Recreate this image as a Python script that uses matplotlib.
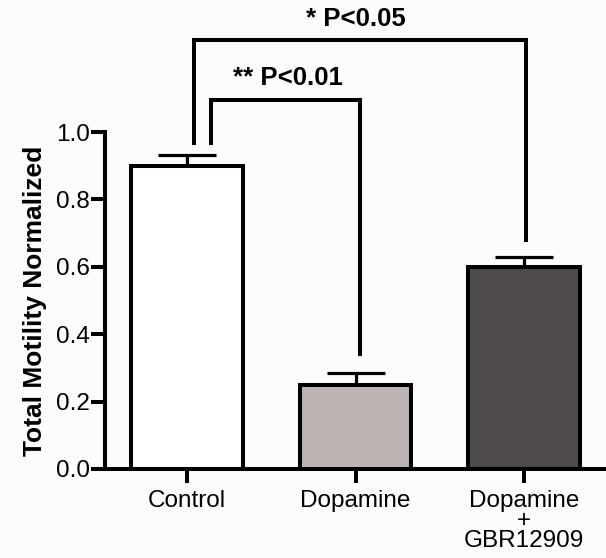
import matplotlib
matplotlib.use("Agg")
import matplotlib.pyplot as plt

plt.rcParams["font.family"] = ["Liberation Sans", "DejaVu Sans"]

gruplar = ["Control", "Dopamine", "Dopamine\n+\nGBR12909"]
ortalama = [0.90, 0.25, 0.60]
hata = [0.032, 0.035, 0.03]
renkler = ["#ffffff", "#bcb5b3", "#4f4b4a"]

y_tikler = [0.0, 0.2, 0.4, 0.6, 0.8, 1.0]

fig = plt.figure(figsize=(6.06, 5.58), dpi=100)
fig.patch.set_facecolor("#fcfcfe")
ax = fig.add_axes([0.1733, 0.1595, 0.8267, 0.6039])
ax.set_facecolor("#fcfcfe")

x = list(range(len(gruplar)))
ax.bar(x, ortalama, width=0.66, color=renkler, edgecolor="black",
       linewidth=2.9, zorder=3)
ax.errorbar(x, ortalama, yerr=[[0, 0, 0], hata], fmt="none", ecolor="black",
            elinewidth=2.3, capsize=21, capthick=2.3, zorder=2)

ax.set_xlim(-0.487, 2.487)
ax.set_ylim(0, 1.0)
ax.set_xticks(x)
ax.set_xticklabels(gruplar, fontsize=17.5, linespacing=0.9)
ax.set_yticks(y_tikler)
ax.set_yticklabels(["%.1f" % t for t in y_tikler], fontsize=17.5)
ax.tick_params(axis="both", length=10, width=2.9, color="black")
ax.tick_params(axis="y", pad=1)
ax.tick_params(axis="x", pad=5)

for s in ["top", "right"]:
    ax.spines[s].set_visible(False)
for s in ["left", "bottom"]:
    ax.spines[s].set_linewidth(2.9)

ax.set_ylabel("Total Motility Normalized", fontsize=19, fontweight="bold",
              labelpad=6)

# anlamlilik cizgileri
def koprü(x1, y1, x2, y2, ust, metin, tx, ty):
    ax.plot([x1, x1, x2, x2], [y1, ust, ust, y2], color="black", lw=2.9,
            clip_on=False, solid_joinstyle="miter", zorder=4)
    ax.text(tx, ty, metin, ha="center", va="center", fontsize=18.5,
            fontweight="bold", clip_on=False)

koprü(0.04, 0.967, 2.01, 0.68, 1.273, "* P<0.05", 1.0, 1.335)
koprü(0.14, 0.967, 1.025, 0.34, 1.095, "** P<0.01", 0.6, 1.16)

plt.savefig("out.png", dpi=100, facecolor=fig.get_facecolor())
